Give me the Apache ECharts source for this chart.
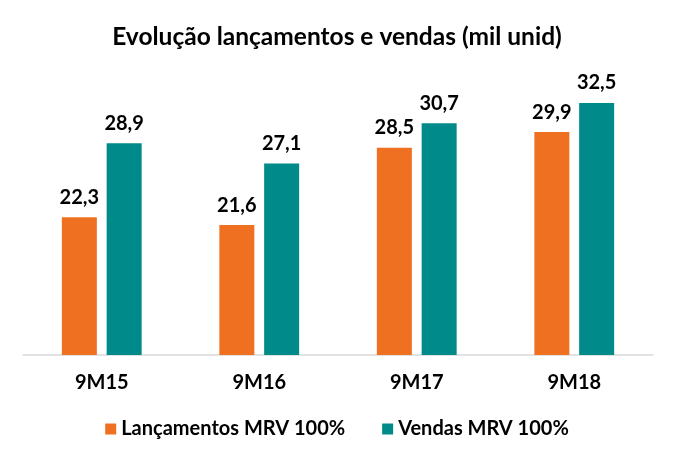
<!DOCTYPE html>
<html>
<head>
<meta charset="utf-8">
<script src="https://cdn.jsdelivr.net/npm/echarts@6/dist/echarts.min.js"></script>
<style>html,body{margin:0;padding:0;background:#fff}#c{width:674px;height:461px}</style>
</head>
<body>
<div id="c"></div>
<script>
var categories = ['9M15', '9M16', '9M17', '9M18'];
var lancamentos = [22.3, 21.6, 28.5, 29.9];
var vendas = [28.9, 27.1, 30.7, 32.5];
var seriesNames = ['Lançamentos MRV 100%', 'Vendas MRV 100%'];
var titleText = 'Evolução lançamentos e vendas (mil unid)';

var font = 'Lato, "Open Sans", sans-serif';
var chart = echarts.init(document.getElementById('c'));
function fmt(p) { return p.value.toFixed(1).replace('.', ','); }
var labelStyle = { show: true, position: 'top', distance: 10, formatter: fmt, fontFamily: font, fontWeight: 'bold', fontSize: 20, color: '#000' };
chart.setOption({
  animation: false,
  title: { text: titleText, left: 'center', top: 20, textStyle: { fontFamily: font, fontWeight: 'bold', fontSize: 24.5, color: '#000' } },
  legend: { bottom: 17, left: 'center', itemWidth: 11, itemHeight: 11, itemGap: 37, icon: 'rect',
    textStyle: { fontFamily: font, fontWeight: 'bold', fontSize: 20, color: '#000' }, data: seriesNames },
  grid: { left: 23, right: 21, top: 75, bottom: 106, containLabel: false },
  xAxis: { type: 'category', data: categories,
    axisLine: { lineStyle: { color: '#d9d9d9', width: 1.5 } }, axisTick: { show: false },
    axisLabel: { fontFamily: font, fontWeight: 'bold', fontSize: 20, color: '#000', margin: 18 } },
  yAxis: { type: 'value', min: 10, max: 35, show: false, splitLine: { show: false } },
  series: [
    { name: seriesNames[0], type: 'bar', data: lancamentos, barWidth: 35, barGap: '28%', itemStyle: { color: '#F07022' }, label: labelStyle },
    { name: seriesNames[1], type: 'bar', data: vendas, barWidth: 35, itemStyle: { color: '#008A89' }, label: labelStyle }
  ]
});
</script>
</body>
</html>
